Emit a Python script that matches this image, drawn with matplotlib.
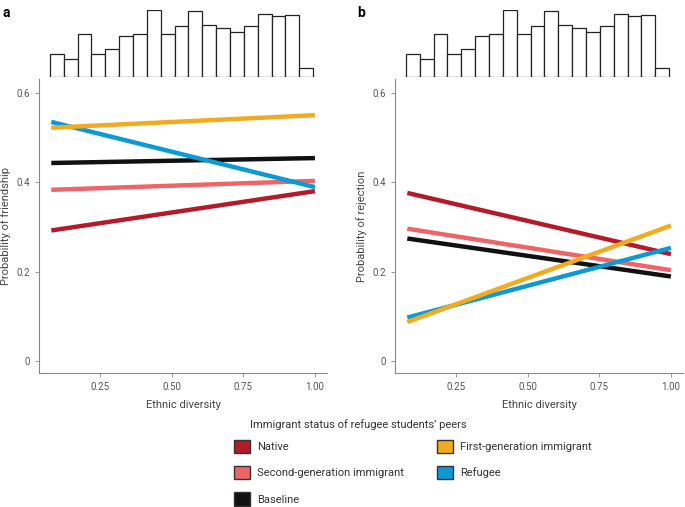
import numpy as np
import matplotlib
matplotlib.use("Agg")
import matplotlib.pyplot as plt
from matplotlib.patches import Patch

plt.rcParams['font.family'] = ['Roboto', 'DejaVu Sans']

# ethnic diversity range of the predicted lines
diversity = [0.08, 1.0]

# panel a: probability of friendship (start, end)
friend_native = [0.292, 0.380]
friend_second = [0.383, 0.403]
friend_baseline = [0.443, 0.454]
friend_refugee = [0.535, 0.389]
friend_first = [0.522, 0.550]

# panel b: probability of rejection (start, end)
reject_native = [0.376, 0.239]
reject_second = [0.296, 0.203]
reject_baseline = [0.274, 0.189]
reject_refugee = [0.097, 0.253]
reject_first = [0.087, 0.303]

# histogram of ethnic diversity (same in both panels)
hist_counts = [68, 52, 126, 68, 82, 122, 128, 198, 128, 150, 196, 153, 146, 132, 150, 186, 182, 184, 27]
hist_edges = np.linspace(0.075, 0.994, len(hist_counts) + 1)

labels = ["Native", "Second-generation immigrant", "Baseline",
          "First-generation immigrant", "Refugee"]
colors = ["#B51A2B", "#EE6467", "#111111", "#F2AB1E", "#0B9AD6"]

fig = plt.figure(figsize=(6.85, 5.07), dpi=100)


def draw_panel(left, series, ylabel, letter, letter_x):
    ax = fig.add_axes([left, 0.2643, 0.4204, 0.5799])
    # draw order: native, second, baseline, refugee, first
    order = [0, 1, 2, 4, 3]
    for i in order:
        ax.plot(diversity, series[i], color=colors[i], lw=3.2, solid_capstyle="butt")
    ax.set_xlim(0.037, 1.042)
    ax.set_ylim(-0.027, 0.631)
    ax.set_xticks([0.25, 0.5, 0.75, 1.0])
    ax.set_xticklabels(["0.25", "0.50", "0.75", "1.00"])
    ax.set_yticks([0, 0.2, 0.4, 0.6])
    ax.set_yticklabels(["0", "0.2", "0.4", "0.6"])
    for s in ["top", "right"]:
        ax.spines[s].set_visible(False)
    for s in ["left", "bottom"]:
        ax.spines[s].set_color("#888888")
        ax.spines[s].set_linewidth(0.8)
    ax.tick_params(colors="#888888", labelcolor="#555555", labelsize=7, length=3, width=0.6)
    ax.set_xlabel("Ethnic diversity", fontsize=8, color="#444444", labelpad=6)
    ax.set_ylabel(ylabel, fontsize=8, color="#444444")
    ax.yaxis.set_label_coords(-0.097, 0.5)

    hx = fig.add_axes([left, 0.849, 0.4204, 0.131])
    hx.bar(hist_edges[:-1], hist_counts, width=np.diff(hist_edges), align="edge",
           facecolor="white", edgecolor="#222222", linewidth=0.9)
    hx.set_xlim(0.037, 1.042)
    hx.set_ylim(0, max(hist_counts))
    hx.axis("off")
    fig.text(letter_x, 0.988, letter, fontsize=10, fontweight="bold", va="top", ha="left")
    return ax

draw_panel(0.0569, [friend_native, friend_second, friend_baseline, friend_first, friend_refugee],
           "Probability of friendship", "a", 0.003)
draw_panel(0.5766, [reject_native, reject_second, reject_baseline, reject_first, reject_refugee],
           "Probability of rejection", "b", 0.521)

handles = [Patch(facecolor=c, edgecolor="#333333", linewidth=1.0) for c in colors]
leg = fig.legend(handles, labels, ncol=2, loc="upper left", bbox_to_anchor=(0.334, 0.144),
                 frameon=False, fontsize=8, handlelength=1.44, handleheight=1.44,
                 handletextpad=0.6, columnspacing=3.0, labelspacing=1.2, borderpad=0)
for t in leg.get_texts():
    t.set_color("#333333")
fig.text(0.365, 0.162, "Immigrant status of refugee students\u2019 peers", fontsize=8,
         color="#333333", va="center")

fig.savefig("out.png", dpi=100)
